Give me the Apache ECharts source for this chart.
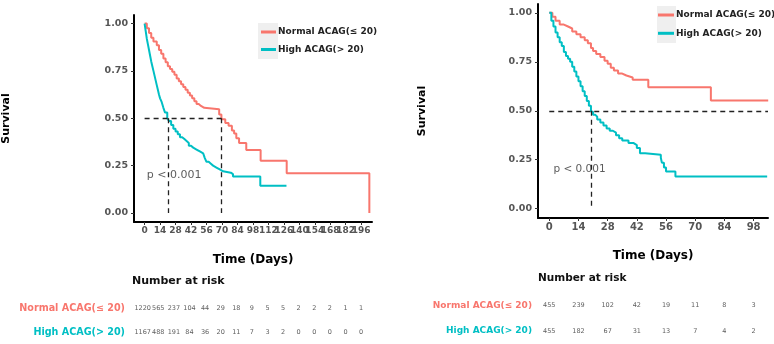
<!DOCTYPE html>
<html>
<head>
<meta charset="utf-8">
<script src="https://cdn.jsdelivr.net/npm/echarts@6/dist/echarts.min.js"></script>
<style>
  html, body { margin: 0; padding: 0; background: #fff; }
  #chart { width: 774px; height: 344px; }
</style>
</head>
<body>
<div id="chart"></div>
<script>
  // group names and colours
  var groupNames = ['Normal ACAG(≤ 20)', 'High ACAG(> 20)'];
  var groupColors = ['#F8766D', '#00BFC4'];

  // left panel: Kaplan-Meier steps (days, survival)
  var leftNormalDays = [0, 2, 4, 6, 8, 11, 13, 15, 17, 19, 21, 23, 25, 27, 29, 31, 33, 35, 37, 39, 41, 43, 45, 47, 49, 51, 54, 67.5, 69.5, 73, 76, 79, 81, 83, 85.5, 92, 105, 128.6, 203.4];
  var leftNormalSurv = [1, 0.975, 0.95, 0.925, 0.905, 0.885, 0.86, 0.84, 0.815, 0.795, 0.775, 0.76, 0.745, 0.73, 0.71, 0.695, 0.68, 0.665, 0.65, 0.635, 0.62, 0.605, 0.59, 0.575, 0.565, 0.555, 0.547, 0.52, 0.495, 0.475, 0.46, 0.435, 0.42, 0.395, 0.37, 0.333, 0.276, 0.21, 0];
  var leftHighDays = [0, 1, 2, 3, 4, 5, 6, 7, 8, 9, 10, 11, 12, 13, 14, 15.5, 17, 18.5, 20.5, 22, 24, 26, 28, 30, 32, 34, 36, 38, 40, 42, 44, 47, 50, 53, 54.5, 56, 58, 60, 62, 65, 68, 71, 78, 80, 104.7, 128.4];
  var leftHighSurv = [1, 0.96, 0.92, 0.89, 0.86, 0.83, 0.8, 0.775, 0.75, 0.725, 0.7, 0.675, 0.65, 0.625, 0.605, 0.585, 0.555, 0.53, 0.5, 0.485, 0.465, 0.445, 0.43, 0.415, 0.4, 0.39, 0.38, 0.37, 0.355, 0.345, 0.335, 0.325, 0.315, 0.305, 0.29, 0.27, 0.26, 0.25, 0.24, 0.23, 0.22, 0.213, 0.205, 0.193, 0.144, 0.144];

  // right panel
  var rightNormalDays = [0, 1.5, 3, 5, 7, 9, 11, 13, 15, 17, 18.5, 20, 21, 22.5, 24.5, 26.5, 28, 29.5, 31, 33, 35, 37, 40, 47.5, 77.5, 105];
  var rightNormalSurv = [1, 0.98, 0.96, 0.94, 0.93, 0.92, 0.905, 0.89, 0.875, 0.86, 0.845, 0.82, 0.805, 0.79, 0.775, 0.755, 0.74, 0.72, 0.705, 0.69, 0.68, 0.67, 0.658, 0.62, 0.552, 0.552];
  var rightHighDays = [0, 1, 2, 3, 4, 5, 6, 7, 8, 9, 10, 11, 12, 13, 14, 15, 16, 17, 18, 19, 20, 21, 22, 23, 24.5, 26, 27.5, 29, 30.5, 32, 33.5, 35, 38, 40.5, 42, 43.5, 46, 53.5, 54, 55, 56, 60.5, 104.5];
  var rightHighSurv = [1, 0.96, 0.93, 0.9, 0.875, 0.85, 0.83, 0.8, 0.78, 0.765, 0.75, 0.725, 0.7, 0.675, 0.65, 0.625, 0.6, 0.575, 0.55, 0.525, 0.495, 0.48, 0.47, 0.455, 0.44, 0.425, 0.41, 0.398, 0.388, 0.375, 0.36, 0.348, 0.335, 0.325, 0.31, 0.283, 0.275, 0.26, 0.235, 0.21, 0.19, 0.164, 0.164];

  // median survival times (dashed guides)
  var leftMedians = [21, 69.5];
  var rightMedians = [20];

  // tick labels
  var leftXTicks = [0, 14, 28, 42, 56, 70, 84, 98, 112, 126, 140, 154, 168, 182, 196];
  var rightXTicks = [0, 14, 28, 42, 56, 70, 84, 98];
  var yTicks = [0, 0.25, 0.5, 0.75, 1];

  // numbers at risk
  var leftRiskNormal = [1220, 565, 237, 104, 44, 29, 18, 9, 5, 5, 2, 2, 2, 1, 1];
  var leftRiskHigh = [1167, 488, 191, 84, 36, 20, 11, 7, 3, 2, 0, 0, 0, 0, 0];
  var rightRiskNormal = [455, 239, 102, 42, 19, 11, 8, 3];
  var rightRiskHigh = [455, 182, 67, 31, 13, 7, 4, 2];

  var pText = 'p < 0.001';
  var leftPPos = [2, 0.2];
  var rightPPos = [2, 0.2];

  var leftXMin = -9.6, leftXMax = 205.8;
  var rightXMin = -5.4, rightXMax = 104.9;

  function pairs(xs, ys) {
    return xs.map(function (x, i) { return [x, ys[i]]; });
  }

  function riskData(ticks, normal, high) {
    var out = [];
    ticks.forEach(function (t, i) {
      out.push([t, groupNames[0], normal[i]]);
      out.push([t, groupNames[1], high[i]]);
    });
    return out;
  }

  function medianLines(medians, xEnd) {
    var lines = [[{ coord: [0, 0.5] }, { coord: [xEnd, 0.5] }]];
    medians.forEach(function (m) {
      lines.push([{ coord: [m, 0.5] }, { coord: [m, 0] }]);
    });
    return lines;
  }

  function valueX(idx, min, max, ticks, fontSize) {
    // an empty label at the axis end keeps ECharts from hiding the last crowded labels
    var labelValues = ticks.concat([max]);
    return {
      type: 'value', gridIndex: idx, min: min, max: max,
      splitLine: { show: false },
      axisLine: { onZero: false, lineStyle: { color: '#000', width: 2 } },
      axisTick: { length: 3, customValues: ticks, lineStyle: { color: '#333' } },
      axisLabel: {
        customValues: labelValues, margin: 4, color: '#555', fontWeight: 'bold',
        fontSize: fontSize, fontFamily: 'DejaVu Sans', hideOverlap: false,
        formatter: function (v) { return ticks.indexOf(v) >= 0 ? String(v) : ''; }
      },
      name: 'Time (Days)', nameLocation: 'middle', nameGap: 32,
      nameTextStyle: { fontSize: 12, fontWeight: 'bold', color: '#000', fontFamily: 'DejaVu Sans', verticalAlign: 'top' }
    };
  }

  function valueY(idx, gap) {
    return {
      type: 'value', gridIndex: idx, min: -0.0475, max: 1.045,
      splitLine: { show: false },
      axisLine: { show: true, onZero: false, lineStyle: { color: '#000', width: 2 } },
      axisTick: { show: true, length: 3, customValues: yTicks, lineStyle: { color: '#333' } },
      axisLabel: {
        customValues: yTicks, margin: 6, color: '#555', fontWeight: 'bold',
        fontSize: 9.5, fontFamily: 'DejaVu Sans',
        formatter: function (v) { return v.toFixed(2); }
      },
      name: 'Survival', nameLocation: 'middle', nameGap: gap,
      nameTextStyle: { fontSize: 11, fontWeight: 'bold', color: '#000', fontFamily: 'DejaVu Sans' }
    };
  }

  function riskY(idx, fontSize, margin) {
    return {
      type: 'category', gridIndex: idx, data: groupNames, inverse: true,
      axisLine: { show: false }, axisTick: { show: false }, splitLine: { show: false },
      axisLabel: {
        margin: margin, fontSize: fontSize, fontWeight: 'bold', fontFamily: 'DejaVu Sans',
        formatter: function (v) { return v === groupNames[0] ? '{n|' + v + '}' : '{h|' + v + '}'; },
        rich: {
          n: { color: groupColors[0], fontSize: fontSize, fontWeight: 'bold', fontFamily: 'DejaVu Sans' },
          h: { color: groupColors[1], fontSize: fontSize, fontWeight: 'bold', fontFamily: 'DejaVu Sans' }
        }
      }
    };
  }

  function kmSeries(name, color, xi, data) {
    return {
      name: name, type: 'line', step: 'end', xAxisIndex: xi, yAxisIndex: xi,
      data: data, showSymbol: false, symbol: 'none',
      lineStyle: { color: color, width: 2 }, itemStyle: { color: color }
    };
  }

  function riskSeries(xi, data, fontSize) {
    return {
      type: 'scatter', xAxisIndex: xi, yAxisIndex: xi, data: data, symbolSize: 0,
      silent: true,
      label: {
        show: true, position: 'inside', fontSize: fontSize, color: '#333', fontFamily: 'DejaVu Sans',
        formatter: function (p) { return String(p.value[2]); }
      }
    };
  }

  function pSeries(xi, pos, fontSize) {
    return {
      type: 'scatter', xAxisIndex: xi, yAxisIndex: xi, data: [pos], symbolSize: 0, silent: true,
      label: {
        show: true, position: 'right', distance: 0, formatter: pText,
        fontSize: fontSize, color: '#333', fontFamily: 'DejaVu Sans'
      }
    };
  }

  var dashStyle = { color: '#222', width: 1.3, type: [5, 4] };

  var option = {
    animation: false,
    backgroundColor: '#fff',
    title: [
      { text: 'Number at risk', left: 127, top: 271, textStyle: { fontSize: 11, fontWeight: 'bold', color: '#111', fontFamily: 'DejaVu Sans' } },
      { text: 'Number at risk', left: 533, top: 268, textStyle: { fontSize: 10.5, fontWeight: 'bold', color: '#111', fontFamily: 'DejaVu Sans' } }
    ],
    graphic: [
      { type: 'rect', z: -10, shape: { x: 258, y: 23, width: 20, height: 36 }, style: { fill: '#efefef' } },
      { type: 'rect', z: -10, shape: { x: 657, y: 6, width: 19, height: 37 }, style: { fill: '#efefef' } }
    ],
    legend: [
      {
        data: groupNames, orient: 'vertical', left: 256, top: 21, icon: 'rect',
        itemWidth: 15, itemHeight: 3, itemGap: 5.5,
        textStyle: { fontSize: 9, fontWeight: 'bold', color: '#222', lineHeight: 12, fontFamily: 'DejaVu Sans', padding: [0, 0, 0, -3] }
      },
      {
        data: groupNames, orient: 'vertical', left: 653, top: 4, icon: 'rect',
        itemWidth: 16, itemHeight: 3, itemGap: 6.3,
        textStyle: { fontSize: 9, fontWeight: 'bold', color: '#222', lineHeight: 12, fontFamily: 'DejaVu Sans', padding: [0, 0, 0, -3] }
      }
    ],
    grid: [
      { left: 132, top: 15, width: 240, height: 207 },
      { left: 538, top: 4, width: 230, height: 214 },
      { left: 132, top: 297, width: 240, height: 48 },
      { left: 538, top: 292.4, width: 230, height: 53.2 }
    ],
    xAxis: [
      valueX(0, leftXMin, leftXMax, leftXTicks, 9),
      valueX(1, rightXMin, rightXMax, rightXTicks, 10),
      { type: 'value', gridIndex: 2, min: leftXMin, max: leftXMax, show: false },
      { type: 'value', gridIndex: 3, min: rightXMin, max: rightXMax, show: false }
    ],
    yAxis: [
      valueY(0, 122),
      valueY(1, 110),
      riskY(2, 9.6, 7),
      riskY(3, 9, 6)
    ],
    series: [
      kmSeries(groupNames[0], groupColors[0], 0, pairs(leftNormalDays, leftNormalSurv)),
      Object.assign(kmSeries(groupNames[1], groupColors[1], 0, pairs(leftHighDays, leftHighSurv)), {
        markLine: { silent: true, symbol: 'none', label: { show: false }, lineStyle: dashStyle, data: medianLines(leftMedians, leftMedians[leftMedians.length - 1]) }
      }),
      kmSeries(groupNames[0], groupColors[0], 1, pairs(rightNormalDays, rightNormalSurv)),
      Object.assign(kmSeries(groupNames[1], groupColors[1], 1, pairs(rightHighDays, rightHighSurv)), {
        markLine: { silent: true, symbol: 'none', label: { show: false }, lineStyle: dashStyle, data: medianLines(rightMedians, rightXMax) }
      }),
      pSeries(0, leftPPos, 11),
      pSeries(1, rightPPos, 10.5),
      riskSeries(2, riskData(leftXTicks, leftRiskNormal, leftRiskHigh), 6.5),
      riskSeries(3, riskData(rightXTicks, rightRiskNormal, rightRiskHigh), 6.5)
    ]
  };

  var chart = echarts.init(document.getElementById('chart'), null, { renderer: 'canvas' });
  chart.setOption(option);
</script>
</body>
</html>
